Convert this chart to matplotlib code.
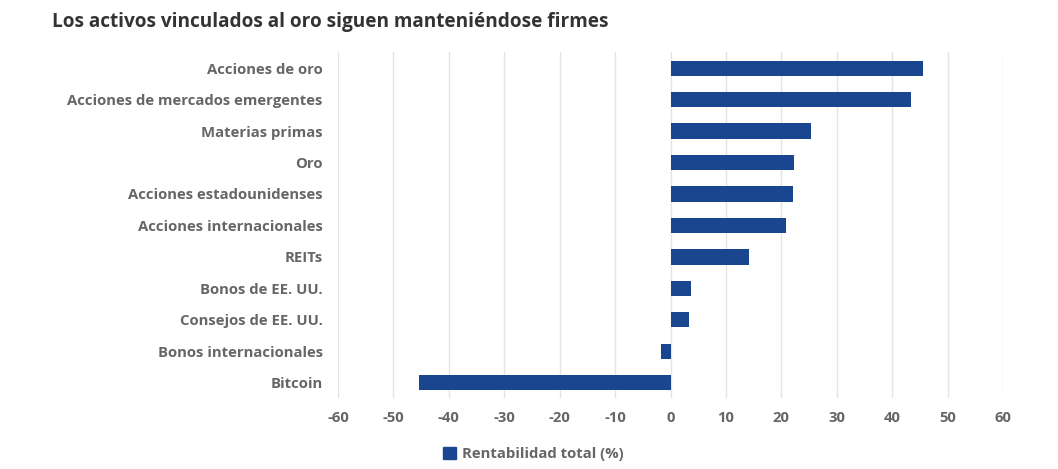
import matplotlib
matplotlib.use("Agg")
import matplotlib.pyplot as plt
from matplotlib.patches import Patch

categories = [
    "Acciones de oro",
    "Acciones de mercados emergentes",
    "Materias primas",
    "Oro",
    "Acciones estadounidenses",
    "Acciones internacionales",
    "REITs",
    "Bonos de EE. UU.",
    "Consejos de EE. UU.",
    "Bonos internacionales",
    "Bitcoin",
]
values = [45.6, 43.4, 25.3, 22.3, 22.1, 20.9, 14.2, 3.7, 3.4, -1.8, -45.4]
xticks = [-60, -50, -40, -30, -20, -10, 0, 10, 20, 30, 40, 50, 60]
series_name = "Rentabilidad total (%)"
title = "Los activos vinculados al oro siguen manteniéndose firmes"

bar_color = "#1a468f"
label_color = "#666666"
plt.rcParams["font.family"] = ["Open Sans", "DejaVu Sans"]

fig = plt.figure(figsize=(10.58, 4.69), dpi=100)
ax = fig.add_axes([338 / 1058, 1 - 398 / 469, (1003 - 338) / 1058, (398 - 52) / 469])

y = list(range(len(categories)))
ax.barh(y, values, height=0.48, color=bar_color, zorder=3)
ax.set_ylim(len(categories) - 0.52, -0.51)
ax.set_xlim(-60, 60)
ax.set_yticks(y)
ax.set_yticklabels(categories, fontsize=10.7, fontweight="bold", color=label_color)
ax.set_xticks(xticks)
ax.set_xticklabels([str(t) for t in xticks], fontsize=10.7, fontweight="bold", color=label_color)
ax.tick_params(axis="y", length=0, pad=11)
ax.tick_params(axis="x", length=0, pad=9)
ax.grid(axis="x", color="#e3e3e3", linewidth=1, zorder=0)
for s in ax.spines.values():
    s.set_visible(False)

fig.text(52 / 1058, 1 - 22 / 469, title, fontsize=13.65, fontweight="bold",
         color="#333333", ha="left", va="center")

leg = fig.legend(handles=[Patch(facecolor=bar_color, edgecolor=bar_color, label=series_name)],
                 loc="center", bbox_to_anchor=(533 / 1058, 1 - 454 / 469), frameon=False,
                 prop={"size": 10.7, "weight": "bold"}, handlelength=0.9, handleheight=0.9,
                 handletextpad=0.4)
for t in leg.get_texts():
    t.set_color(label_color)

fig.savefig("out.png", dpi=100, facecolor="white")
